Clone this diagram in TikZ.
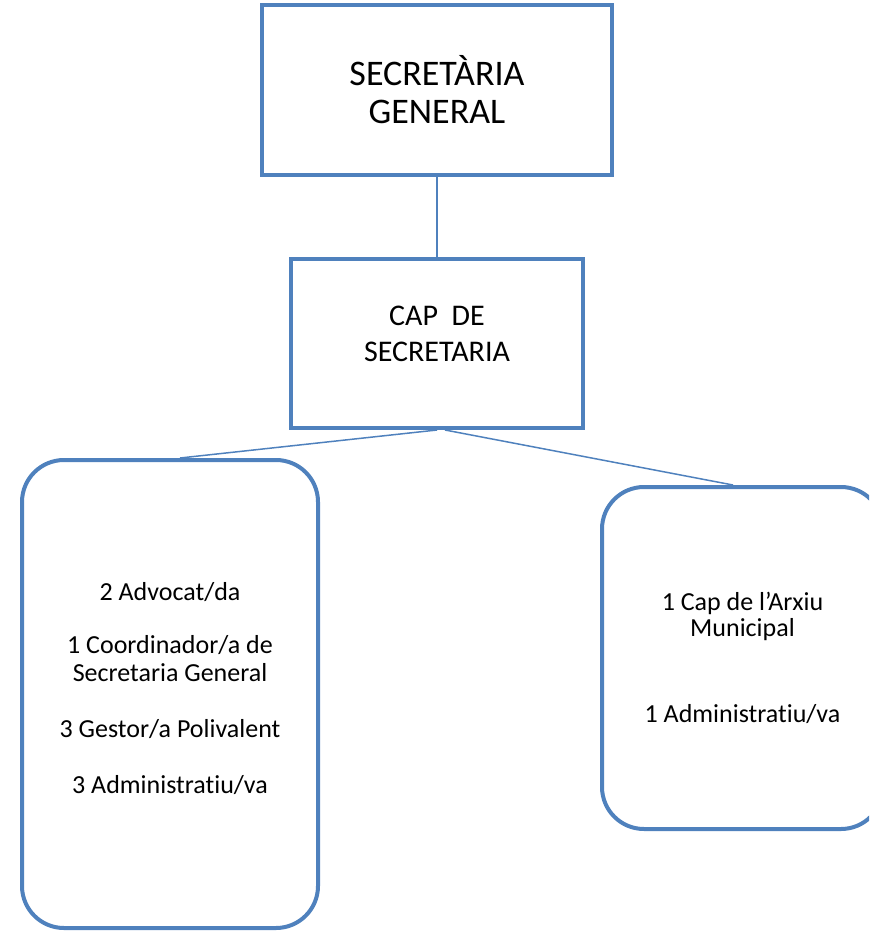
\documentclass[tikz,border=0pt]{standalone}
\usepackage{fontspec}
\setmainfont{Carlito}[Ligatures=NoCommon]
\usepackage{tikz}
\definecolor{officeblue}{HTML}{4F81BD}

\begin{document}
\begin{tikzpicture}[x=0.5pt,y=-0.5pt]
			\tikzset{unit/.style = {shape=rectangle,draw=officeblue,line width=2pt,align=center}}
			\tikzset{team/.style = {unit,rounded corners=21pt}}
			\tikzset{link/.style = {draw=officeblue,line width=0.75pt}}
			\useasboundingbox (0,0) rectangle (869,937);
			\clip (0,0) rectangle (869,937);
			% units
			\node[unit, minimum width=175pt, minimum height=85pt, font=\fontsize{18}{19}\selectfont] (secgen) at (437,90) {SECRETÀRIA\\GENERAL};
			\node[unit, minimum width=146pt, minimum height=84.5pt] (cap) at (437,343.5) {};
			\node[align=center, font=\fontsize{15}{18}\selectfont] (captext) at (437,333.5) {CAP\ \ DE\\SECRETARIA};
			\node[team, minimum width=148pt, minimum height=234pt] (advocats) at (170,694) {};
			\node[align=center, font=\fontsize{13}{14}\selectfont] (advocatstext) at (170,689)
				{2 Advocat/da\\[12.5pt] 1 Coordinador/a de\\Secretaria General\\[14pt] 3 Gestor/a Polivalent\\[14pt] 3 Administratiu/va};
			\node[team, minimum width=140.5pt, minimum height=171pt, font=\fontsize{13}{13}\selectfont] (arxiu) at (742.5,658)
				{1 Cap de l'Arxiu\\Municipal\\[30pt] 1 Administratiu/va};
			% links
			\draw[link] (secgen.south) -- (cap.north);
			\draw[link] (cap.south) -- ([xshift=5pt]advocats.north);
			\draw[link] ([xshift=4pt]cap.south) -- ([xshift=-4.75pt]arxiu.north);
		\end{tikzpicture}
\end{document}
